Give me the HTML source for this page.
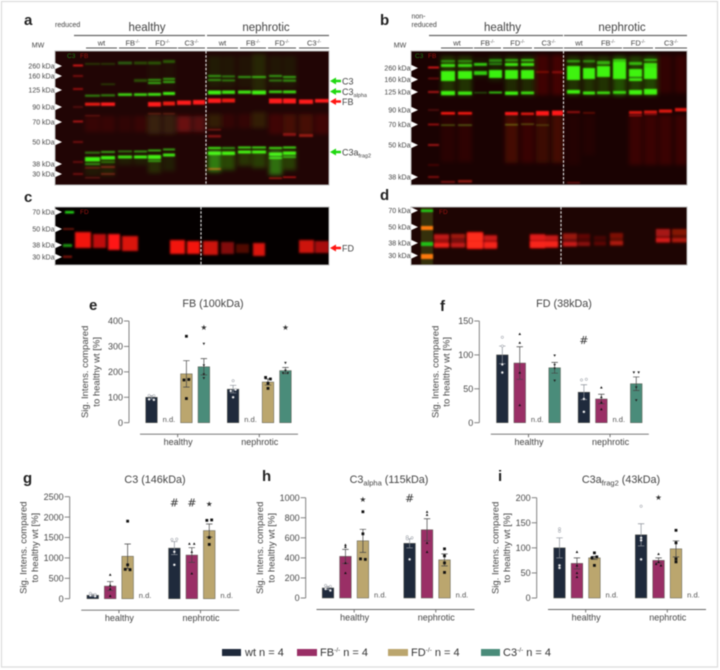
<!DOCTYPE html>
<html lang="en">
<head>
<meta charset="utf-8">
<title>Complement western blots and quantification</title>
<style>
html,body{margin:0;padding:0;background:#fff;width:720px;height:670px;overflow:hidden}
svg{display:block;font-family:"Liberation Sans",sans-serif;filter:blur(0.4px)}
text{fill:#444}
</style>
</head>
<body>
<svg id="fig" xmlns="http://www.w3.org/2000/svg" width="720" height="670" viewBox="0 0 720 670">
<defs>
<filter id="b1" x="-20%" y="-150%" width="140%" height="400%"><feGaussianBlur stdDeviation="0.8"/></filter>
<filter id="b2" x="-20%" y="-50%" width="140%" height="200%"><feGaussianBlur stdDeviation="1.1"/></filter>
<filter id="b3" x="-30%" y="-50%" width="160%" height="200%"><feGaussianBlur stdDeviation="2"/></filter>
<clipPath id="clipA"><rect x="55" y="51" width="274" height="134"/></clipPath>
<clipPath id="clipB"><rect x="411" y="51" width="276" height="134"/></clipPath>
<clipPath id="clipC"><rect x="55" y="207" width="274" height="58"/></clipPath>
<clipPath id="clipD"><rect x="411" y="207" width="276" height="58"/></clipPath>
</defs>
<rect x="1.5" y="1.5" width="716" height="665.5" fill="#fff" stroke="#dcdcdc" stroke-width="1.2"/>

<g font-weight="bold" font-size="15">
<text x="24" y="25" style="fill:#222">a</text>
<text x="380" y="25" style="fill:#222">b</text>
<text x="24" y="202" style="fill:#222">c</text>
<text x="380" y="200" style="fill:#222">d</text>
<text x="89" y="310" style="fill:#222">e</text>
<text x="440" y="311" style="fill:#222">f</text>
<text x="23" y="483" style="fill:#222">g</text>
<text x="262" y="481" style="fill:#222">h</text>
<text x="498" y="481" style="fill:#222">i</text>
</g>

<g id="headers"></g>
<g id="blots"></g>
<g id="charts"></g>

<g font-size="11">
<rect x="222" y="649" width="19" height="7" fill="#1f2a3c"/>
<text x="245" y="656" style="fill:#333">wt n = 4</text>
<rect x="297" y="649" width="20" height="7" fill="#9a2f66"/>
<text x="320" y="656" style="fill:#333">FB<tspan dy="-4" font-size="6.5">-/-</tspan><tspan dy="4"> n = 4</tspan></text>
<rect x="388" y="649" width="20" height="7" fill="#bba66e"/>
<text x="411" y="656" style="fill:#333">FD<tspan dy="-4" font-size="6.5">-/-</tspan><tspan dy="4"> n = 4</tspan></text>
<rect x="481" y="649" width="19" height="7" fill="#4a8c7a"/>
<text x="503" y="656" style="fill:#333">C3<tspan dy="-4" font-size="6.5">-/-</tspan><tspan dy="4"> n = 4</tspan></text>
</g>
</svg>

<script>
/* ---------- chart data ---------- */
const genotypeOrder = ['wt', 'FB', 'FD', 'C3'];
const groupNames = ['healthy', 'nephrotic'];

const ticksE = [0, 100, 200, 300, 400];
const meansE = [[100, null, 192, 220], [132, null, 160, 205]];
const errorsE = [[6, 0, 52, 32], [15, 0, 12, 12]];
const pointsE = [
  [[107, 106, 92, 90], [], [340, 170, 168, 95], [310, 225, 190, 175]],
  [[165, 130, 125, 100], [], [178, 172, 155, 135], [235, 195, 195, 205]]
];
const marksE = [[3, '*'], [7, '*']];

const ticksF = [0, 50, 100, 150];
const meansF = [[100, 88, null, 81], [45, 35, null, 57.5]];
const errorsF = [[13, 24, 0, 8], [11, 7, 0, 10]];
const pointsF = [
  [[126, 113, 86, 74], [131, 118, 74, 26], [], [99, 85, 80, 62]],
  [[63, 64, 35, 16], [52, 38, 30, 20], [], [74, 74, 52, 33]]
];
const marksF = [[4, '#']];

const ticksG = [0, 500, 1000, 1500, 2000, 2500];
const meansG = [[85, 310, 1040, null], [1240, 1070, 1670, null]];
const errorsG = [[25, 110, 300, 0], [160, 180, 160, 0]];
const pointsG = [
  [[130, 100, 80, 60], [590, 330, 240, 70], [1900, 830, 720, 710], []],
  [[1450, 1460, 1150, 830], [1350, 1350, 1150, 620], [1920, 1930, 1500, 1330], []]
];
const marksG = [[4, '#'], [5, '#'], [6, '*']];

const ticksH = [0, 200, 400, 600, 800, 1000];
const meansH = [[100, 415, 570, null], [545, 680, 380, null]];
const errorsH = [[15, 70, 115, 0], [45, 110, 60, 0]];
const pointsH = [
  [[125, 115, 90, 75], [530, 510, 350, 250], [860, 640, 390, 385], []],
  [[610, 600, 590, 385], [860, 830, 550, 460], [490, 420, 350, 255], []]
];
const marksH = [[2, '*'], [4, '#']];

const ticksI = [0, 50, 100, 150, 200];
const meansI = [[100, 69, 80, null], [126, 75, 98, null]];
const errorsI = [[20, 11, 3, 0], [22, 5, 16, 0]];
const pointsI = [
  [[138, 133, 65, 60], [92, 65, 50, 42], [90, 82, 80, 65], []],
  [[183, 120, 115, 77], [88, 72, 68, 65], [135, 110, 78, 72], []]
];
const marksI = [[5, '*']];

/* ---------- helpers ---------- */
const NS = 'http://www.w3.org/2000/svg';
function mk(tag, attrs, parent, txt) {
  const el = document.createElementNS(NS, tag);
  for (const k in attrs) el.setAttribute(k, attrs[k]);
  if (txt !== undefined) el.textContent = txt;
  parent.appendChild(el);
  return el;
}
const colorByGenotype = { wt: '#1f2a3c', FB: '#9a2f66', FD: '#bba66e', C3: '#4a8c7a' };

function drawPoint(g, type, x, y) {
  let el;
  if (type === 'wt') {
    el = mk('circle', { cx: x, cy: y, r: 1.2, fill: '#fff', stroke: '#8a8f98', 'stroke-width': 0.5 }, g);
  } else if (type === 'FB') {
    el = mk('polygon', { points: `${x - 1.3},${y + 1.1} ${x + 1.3},${y + 1.1} ${x},${y - 1.3}`, fill: '#111' }, g);
  } else if (type === 'FD') {
    el = mk('rect', { x: x - 1.4, y: y - 1.4, width: 2.8, height: 2.8, fill: '#111' }, g);
  } else {
    el = mk('polygon', { points: `${x - 1.3},${y - 1.1} ${x + 1.3},${y - 1.1} ${x},${y + 1.3}`, fill: '#222' }, g);
  }
  
  
}

function drawChart(cfg) {
  const root = document.getElementById('charts');
  const g = mk('g', {}, root);
  
  
  const yMax = cfg.ticks[cfg.ticks.length - 1];
  const yScale = v => cfg.y0 - (v / yMax) * (cfg.y0 - cfg.yTop);
  const slot = 17.45, groupStep = 81.6, barW = 11.6;
  const xScale = (grp, i) => cfg.x1 + grp * groupStep + i * slot;

  const axis = mk('line', { x1: cfg.axisX, x2: cfg.axisX, y1: cfg.yTop, y2: cfg.y0, stroke: '#777', 'stroke-width': 0.9 }, g);
  
  
  cfg.ticks.forEach(t => {
    const tk = mk('line', { x1: cfg.axisX - 5, x2: cfg.axisX, y1: yScale(t), y2: yScale(t), stroke: '#777', 'stroke-width': 0.9 }, g);
    
    
    const lb = mk('text', { x: cfg.axisX - 6, y: yScale(t) + 3.2, 'text-anchor': 'end', 'font-size': 9, style: 'fill:#4a4a4a' }, g, t);
    
    
  });

  const tcx = cfg.axisX - cfg.titleDx;
  const yt = mk('text', { transform: `translate(${tcx},${(cfg.y0 + cfg.yTop) / 2 + cfg.titleDy}) rotate(-90)`, 'text-anchor': 'middle', 'font-size': 9.5, style: 'fill:#444' }, g);
  
  
  const yt1 = mk('tspan', { x: 0, y: 0 }, yt, 'Sig. Intens. compared');
  
  
  const yt2 = mk('tspan', { x: 0, y: 11.3 }, yt, 'to healthy wt [%]');
  
  

  const ttl = mk('text', { x: cfg.titleX, y: cfg.titleY, 'text-anchor': 'middle', 'font-size': 10.8, style: 'fill:#444' }, g);
  
  
  ttl.appendChild(document.createTextNode(cfg.title[0]));
  if (cfg.title[1]) {
    const sb = mk('tspan', { dy: 2.5, 'font-size': 7.5 }, ttl, cfg.title[1]);
    
    
    const rs = mk('tspan', { dy: -2.5 }, ttl, cfg.title[2]);
    
    
  }

  const lineY = cfg.y0 + 11.5;
  const base = mk('line', { x1: cfg.x1 - 11.5, x2: cfg.x1 + 146.5, y1: lineY, y2: lineY, stroke: '#666', 'stroke-width': 0.9 }, g);
  
  

  groupNames.forEach((gn, gi) => {
    const cx = cfg.x1 + gi * groupStep + 1.5 * slot;
    const gt = mk('line', { x1: cx, x2: cx, y1: lineY, y2: lineY + 3, stroke: '#666', 'stroke-width': 0.9 }, g);
    
    
    const gl = mk('text', { x: cx + 0.5, y: lineY + 11, 'text-anchor': 'middle', 'font-size': 9, style: 'fill:#444' }, g, gn);
    
    

    genotypeOrder.forEach((type, i) => {
      const m = cfg.means[gi][i];
      const x = xScale(gi, i);
      if (m === null) {
        const nd = mk('text', { x: x, y: cfg.y0 - 0.5, 'text-anchor': 'middle', 'font-size': 7.6, style: 'fill:#555' }, g, 'n.d.');
        
        
        return;
      }
      const bar = mk('rect', { x: x - barW / 2, y: yScale(m), width: barW, height: cfg.y0 - yScale(m), fill: colorByGenotype[type], stroke: '#5a5a50', 'stroke-width': 0.5 }, g);
      
      
      const e = cfg.errors[gi][i];
      const errCol = type === 'wt' ? '#8a8f98' : '#444';
      const el = mk('path', { d: `M${x - 3.2} ${yScale(m + e)}H${x + 3.2}M${x} ${yScale(m + e)}V${yScale(m - e)}M${x - 3.2} ${yScale(m - e)}H${x + 3.2}`, fill: 'none', stroke: errCol, 'stroke-width': 0.7 }, g);
      
      
      cfg.points[gi][i].forEach((p, k) => {
        const neighbour = cfg.points[gi][i].some((q, j) => j !== k && Math.abs(q - p) < yMax * 0.02);
        const off = neighbour ? (k % 2 ? 2.4 : -2.4) : 0;
        drawPoint(g, type, x + off, yScale(p));
      });
    });
  });

  cfg.marks.forEach(mkr => {
    const grp = mkr[0] >= 4 ? 1 : 0;
    const idx = mkr[0] % 4;
    const sym = mkr[1] === '*' ? '★' : '#';
    const s = mk('text', { x: xScale(grp, idx), y: cfg.markY, 'text-anchor': 'middle', 'font-size': mkr[1] === '*' ? 7.5 : 11, style: 'fill:#333;font-family:"DejaVu Sans","Liberation Sans",sans-serif' }, g, sym);
    
    
  });
}

drawChart({ name: 'chart-fb', title: ['FB (100kDa)'], titleX: 213, titleY: 307, axisX: 129, y0: 422.7, yTop: 321, x1: 151.5, ticks: ticksE, means: meansE, errors: errorsE, points: pointsE, marks: marksE, markY: 330, titleDx: 41, titleDy: 0 });
drawChart({ name: 'chart-fd', title: ['FD (38kDa)'], titleX: 564, titleY: 307, axisX: 479.3, y0: 422.7, yTop: 321, x1: 502.3, ticks: ticksF, means: meansF, errors: errorsF, points: pointsF, marks: marksF, markY: 344, titleDx: 41, titleDy: 0 });
drawChart({ name: 'chart-c3', title: ['C3 (146kDa)'], titleX: 155, titleY: 483, axisX: 69.7, y0: 598.7, yTop: 496.7, x1: 92.75, ticks: ticksG, means: meansG, errors: errorsG, points: pointsG, marks: marksG, markY: 506.5, titleDx: 43, titleDy: 0 });
drawChart({ name: 'chart-c3-alpha', title: ['C3', 'alpha', ' (115kDa)'], titleX: 389, titleY: 483, axisX: 305.7, y0: 598, yTop: 497.7, x1: 328, ticks: ticksH, means: meansH, errors: errorsH, points: pointsH, marks: marksH, markY: 502, titleDx: 42.5, titleDy: 0 });
drawChart({ name: 'chart-c3a-frag2', title: ['C3a', 'frag2', ' (43kDa)'], titleX: 621, titleY: 483, axisX: 536.7, y0: 598, yTop: 497.7, x1: 559.5, ticks: ticksI, means: meansI, errors: errorsI, points: pointsI, marks: marksI, markY: 500, titleDx: 38, titleDy: 0 });

/* ---------- western blots ---------- */
const blotRoot = document.getElementById('blots');
const R = '#ff1612', G = '#22f010', DR = '#8a1410';
const lanesA = [[85,100],[101,115],[118,132],[134,147],[148,161],[163,175],[177,191],[193,205],[208,221],[222,235],[238,251],[252,266],[269,282],[283,296],[299,313],[315,329]];
const lanesB = [[441,455],[458,472],[474,487],[489,502],[505,518],[521,534],[536,549],[552,563],[567,580],[583,595],[597,610],[613,626],[629,642],[644,657],[659,672],[675,687]];

/* lane, y, height, colour, opacity */
const smearsA = [
  [8,56,32,G,.09],[9,56,32,G,.07],[10,56,32,G,.06],[11,54,38,G,.14],[12,56,32,G,.07],[13,56,32,G,.07],
  [4,60,30,G,.04],[5,60,30,G,.04],
  [0,116,16,DR,.18],[1,116,16,DR,.18],[2,116,16,DR,.12],[3,116,16,DR,.18],[4,114,20,'#556014',.3],[5,114,20,'#556014',.28],[6,116,16,DR,.6],[7,116,16,DR,.45],
  [8,114,14,'#405010',.3],[9,114,14,DR,.15],[10,114,14,DR,.15],[11,112,16,'#405010',.3],[12,114,20,DR,.25],[13,114,20,DR,.3],[14,114,20,DR,.3],[15,114,20,DR,.25],
  [8,150,22,G,.5],[9,150,20,G,.28],[10,150,16,G,.2],[11,150,18,G,.24],[12,150,25,G,.45],[13,150,20,G,.24],
  [0,158,18,G,.08],[1,158,18,G,.1],[2,155,10,G,.1],[3,155,10,G,.1],[4,155,18,G,.16],[5,155,16,G,.1]
];
const bandsA = [
  [0,63,1.8,G,.22],[1,63,1.8,G,.22],[2,61.5,3,G,.35],[3,61.5,3,G,.28],[4,61.5,3,G,.3],[5,60,3,G,.33],
  [1,83.5,1.5,G,.25],[3,79,3,G,.3],[4,79,1.8,G,.65],[4,82,2,G,.7],[5,78,1.8,G,.65],[5,81,2,G,.7],
  [0,94.7,2,G,.55],[1,94.3,2,G,.55],[2,93.3,2.6,G,.9],[3,93.3,2.6,G,.9],[4,93,2.8,G,.95],[5,92,3,G,1],
  [0,102.7,3,R,.9],[1,102.5,3.4,R,1],[4,102,4.6,R,1],[5,101.5,4,R,.9],[6,100.5,4.4,R,1],[7,100,4.6,R,1],
  [0,151.7,2,G,.5],[0,157,4.5,G,1],[0,163,2,G,.55],[1,151,2,G,.65],[1,156,3.5,G,1],[1,161,2,G,.4],
  [2,150.5,1.8,G,.5],[2,155.5,3,G,.9],[3,150.5,2,G,.6],[3,155.5,3,G,1],
  [4,149.5,2,G,.7],[4,155,4,G,1],[4,160,2,G,.55],[5,148.5,2,G,.65],[5,153.5,3,G,.95],
  [0,167,1.6,DR,.6],[1,166,2,DR,.7],[0,177,1.5,DR,.5],[1,173,2,DR,.6],[0,115,1.4,DR,.5],[4,113,1.4,DR,.5],[5,113,1.4,DR,.5],
  [8,75,2,G,.6],[8,79,2,G,.55],[9,75.5,1.8,G,.5],[9,79.5,1.8,G,.5],[10,76,2,G,.6],[11,76,2,G,.7],[12,75,2,G,.6],[12,79.5,2,G,.45],[13,76,2,G,.65],[13,79.5,2.2,G,.55],
  [8,90.5,4,G,1],[9,90.5,3.4,G,.95],[10,90.5,3.2,G,.95],[11,90.5,4,G,1],[12,90.5,2.6,G,.85],[13,90.5,2.8,G,.9],
  [8,98.4,4.6,R,1],[9,98.5,4,R,.9],[12,98.5,5,R,1],[13,98.5,5,R,1],[14,99.5,4.4,R,1],[15,99,3.6,R,1],
  [8,147,2,G,.95],[8,151.5,3.5,G,1],[9,147,2,G,.6],[9,151.5,3.5,G,1],[10,146.5,2,G,.9],[10,150.5,3,G,1],[11,146.5,2,G,.9],[11,150.5,3,G,1],
  [12,147,2,G,.9],[12,152.5,3.4,G,1],[12,157,2,G,.9],[13,146.5,2,G,.9],[13,151.5,3.4,G,1],[13,156,2,G,.65],
  [8,168,2,R,.55],[8,129,1.5,DR,.7],[8,135,2.5,DR,.8],[12,177.5,1.4,R,.6],[13,176.5,1.4,R,.7],[14,134,3,DR,.9],[13,133,3,DR,.8]
];
const ladderA = [65.5,76,89,107,121.5,142,162,174];
const ladderAop = [.9,.45,.6,.25,.7,.4,.35,.4];

const smearsB = [
  [0,56,40,G,.2],[1,56,40,G,.2],[2,58,20,G,.08],[3,56,25,G,.12],[4,56,40,G,.16],[5,56,40,G,.16],
  [6,55,40,R,.16],[7,55,40,R,.18],[14,55,38,R,.1],[15,55,38,R,.12],
  [8,56,40,G,.2],[9,56,40,G,.2],[10,56,40,G,.2],[11,56,40,G,.32],[12,56,40,G,.25],[13,56,40,G,.28],
  [0,112,50,DR,.12],[1,112,50,DR,.16],[4,115,48,DR,.34],[5,115,48,DR,.24],[6,115,48,DR,.28],[7,115,48,DR,.34],
  [8,115,50,DR,.08],[9,115,40,DR,.08],[12,115,50,DR,.26],[13,115,50,DR,.26],[14,115,50,DR,.26],[15,115,50,DR,.26]
];
const bandsB = [
  [0,60,2.5,G,.45],[0,64,3,G,.9],[1,60,2.5,G,.45],[1,64,3,G,.85],[2,63,2.8,G,.85],[3,59,3,G,.5],[3,63,2,G,.5],
  [4,59,2.5,G,.6],[4,63,3,G,.95],[5,59,2.5,G,.7],[5,63,3,G,.95],
  [0,71,8,G,1],[0,75,6,G,1],[1,71,8,G,1],[2,71,4,G,.85],[3,70,8,G,1],[4,70,9,G,1],[5,70,9,G,1],
  [0,91,4.2,G,1],[1,91.5,3.4,G,.95],[2,92,1.4,G,.35],[3,91.5,2,G,.8],[4,91.5,3.4,G,1],[5,91.5,2.8,G,.9],
  [0,112,2.6,R,.95],[1,112,2.6,R,.95],[4,112,3.2,R,1],[5,112.5,2.6,R,.85],[6,111,4.6,R,1],[7,110.5,5,R,1],
  [0,124.5,1.2,'#55a018',.6],[1,124.5,1.2,'#55a018',.7],[4,124,1.4,'#66a018',.6],[5,123.5,1.4,'#66a018',.5],[6,124.5,1.2,'#66a018',.4],
  [0,181,1.8,DR,.8],[1,180,2.6,DR,.9],[6,71,2,R,.3],[7,71,2.4,R,.35],
  [8,60,2.4,G,.55],[8,66,12,G,1],[8,76,4,G,1],[8,90,3.6,G,1],[9,60,2.5,G,.45],[9,68,11,G,1],[9,91.5,3,G,.95],
  [10,61,3.5,G,.65],[10,66,11,G,1],[10,91.5,2.6,G,.9],[11,59,3,G,.7],[11,62,15,G,1],[11,72,7,G,1],[11,91,2.8,G,.85],
  [12,62,3,G,.7],[12,69,8,G,1],[12,78,3,G,.95],[12,90,4.6,G,1],[13,59,2,G,.65],[13,63,5,G,.9],[13,68,11,G,1],[13,89,5.6,G,1],
  [8,111,2.2,R,.5],[9,112,1.8,R,.3],[12,111,3,R,.8],[12,115,1.4,R,.55],[13,110.5,3,R,.8],[13,114,1.2,R,.45],[14,109.5,3.2,R,.85],[15,108,3.4,R,.85],
  [8,182,1.4,DR,.7]
];
const ladderB = [67.5,78.5,92,110,124.5,145,165,177];
const ladderBop = [.9,.35,.7,.25,.6,.65,.2,.5];

/* panel c/d blocks: x0, x1, y0, y1, opacity */
const blocksC = [
  [75,91,232,248,.95],[93,106,234,248,.75],[108,120,234,250,1],[122,138,236,251,.85],
  [170,185,240,254,.95],[187,200,241,254,.95],[203,218,241,255,.8],[221,234,242,254,.5],[236,249,244,253,.3],[253,265,243,256,.85],
  [299,314,240,253,.8],[315,329,241,253,.65]
];
const blocksHazeD = [
  [434,449,234,248,.55],[451,465,234,248,.4],[467,483,232,249,.9],[484,497,235,249,.6],
  [530,545,234,248,.65],[545,558,235,248,.55],[563,577,233,247,.35],[578,590,234,246,.2],[594,606,236,246,.12],[610,623,233,246,.28],
  [656,670,229,243,.4],[672,687,229,243,.28]
];
const blocksD1 = [
  [434,449,235,239,.4],[451,465,234,238,.3],[467,483,233,241,.9],[484,497,236,240,.4],
  [530,545,235,240,.6],[545,558,236,240,.45],[563,577,234,239,.3],[578,590,234,238,.12],[594,606,236,239,.08],[610,623,233,238,.2],
  [656,670,229,236,.35],[672,687,229,235,.25]
];
const blocksD2 = [
  [434,449,243,247,.9],[451,465,243,247,.55],[467,483,241,248,.9],[484,497,242,248,.9],
  [530,545,241,248,.9],[545,558,241,247,.9],[563,577,242,246,.65],[578,590,242,246,.35],[594,606,242,245,.2],[610,623,241,245,.5],
  [656,670,238,242,.7],[672,687,238,242,.5]
];

function blotPanel(name, clipId, x, y, w, h, bg) {
  const g = mk('g', { 'clip-path': `url(#${clipId})` }, blotRoot);
  
  
  const r = mk('rect', { x: x, y: y, width: w, height: h, fill: bg }, g);
  
  
  const frame = mk('rect', { x: x, y: y, width: w, height: h, fill: 'none', stroke: '#bbb', 'stroke-width': 1 }, blotRoot);
  
  
  return g;
}
function drawLaneBands(panel, lanes, list, filterId, kind) {
  const g = mk('g', { filter: `url(#${filterId})`, style: 'mix-blend-mode:screen' }, panel);
  
  
  list.forEach(b => {
    const l = lanes[b[0]];
    const r = mk('rect', { x: l[0], y: b[1], width: l[1] - l[0], height: b[2], fill: b[3], opacity: b[4] }, g);
    
    
  });
}
function drawLadder(panel, x, w, ys, ops) {
  const g = mk('g', { filter: 'url(#b1)' }, panel);
  
  
  ys.forEach((yv, i) => {
    const r = mk('rect', { x: x, y: yv - 1, width: w, height: 2, fill: '#e01818', opacity: ops[i] }, g);
    
    
  });
}
function drawBlocks(panel, list, col, filterId) {
  const g = mk('g', { filter: `url(#${filterId})`, style: 'mix-blend-mode:screen' }, panel);
  
  
  list.forEach(b => {
    const r = mk('rect', { x: b[0], y: b[2], width: b[1] - b[0], height: b[3] - b[2], fill: col, opacity: b[4] }, g);
    
    
  });
}
function dashed(x, y1, y2) {
  const d = mk('line', { x1: x, x2: x, y1: y1, y2: y2, stroke: '#e8e8e8', 'stroke-width': 1.1, 'stroke-dasharray': '2.6 1.6' }, blotRoot);
  
  
}
function mwMarkers(list, x) {
  list.forEach(m => {
    const tri = mk('polygon', { points: `${x},${m[1] - 3.2} ${x + 7},${m[1]} ${x},${m[1] + 3.2}`, fill: '#fff' }, blotRoot);
    
    
    const t = mk('text', { x: x - 0.5, y: m[1] + 2.4, 'text-anchor': 'end', 'font-size': 7, style: 'fill:#444' }, blotRoot, m[0] + ' kDa');
    
    
  });
}
function blotTag(txt, x, y, col) {
  const t = mk('text', { x: x, y: y, 'font-size': 6.5, style: 'fill:' + col }, blotRoot, txt);
  
  
}

const pa = blotPanel('blot-a', 'clipA', 55, 51, 274, 134, '#210505');
drawLaneBands(pa, lanesA, smearsA, 'b3', 'blot-smear');
drawLadder(pa, 73, 10, ladderA, ladderAop);
drawLaneBands(pa, lanesA, bandsA, 'b1', 'blot-band');
const pb = blotPanel('blot-b', 'clipB', 411, 51, 276, 134, '#1a0202');
drawLaneBands(pb, lanesB, smearsB, 'b3', 'blot-smear');
drawLadder(pb, 428, 11, ladderB, ladderBop);
drawLaneBands(pb, lanesB, bandsB, 'b1', 'blot-band');

const pc = blotPanel('blot-c', 'clipC', 55, 207, 274, 58, '#040000');
drawBlocks(pc, blocksC, '#ff1612', 'b2');
const lc = [[65,74,211,213.5,'#22d018',1],[63,74,228,230,'#8a1a10',.7],[63,72,244,247,'#22b018',.8],[63,72,255.5,258,'#8a1410',.8]];
lc.forEach(b => {
  const r = mk('rect', { x: b[0], y: b[2], width: b[1] - b[0], height: b[3] - b[2], fill: b[4], opacity: b[5], filter: 'url(#b1)' }, pc);
  
  
});

const pd = blotPanel('blot-d', 'clipD', 411, 207, 276, 58, '#1e0503');
drawBlocks(pd, blocksHazeD, '#ff1612', 'b2');
drawBlocks(pd, blocksD1, '#ff1612', 'b2');
drawBlocks(pd, blocksD2, '#ff1612', 'b2');
const ld = [[421,433,207,265,'#3a3a10',.8],[421,433,209.5,212,'#22d018',1],[421,433,226,230,'#ff7a10',1],[421,433,242,246,'#22c018',1],[421,433,254,259,'#ff7a10',1]];
ld.forEach(b => {
  const r = mk('rect', { x: b[0], y: b[2], width: b[1] - b[0], height: b[3] - b[2], fill: b[4], opacity: b[5], filter: 'url(#b1)' }, pd);
  
  
});

dashed(206, 51, 185);
dashed(201, 207, 265);
dashed(563.5, 51, 185);
dashed(561, 207, 265);

mwMarkers([['260',66],['160',76],['125',90],['90',107],['70',122],['50',142],['38',164],['30',174]], 55);
mwMarkers([['70',212],['50',229],['38',245],['30',257]], 55);
mwMarkers([['260',68],['160',79.5],['125',92],['90',110],['70',124.5],['50',145],['38',177]], 411);
mwMarkers([['70',210.5],['50',227],['38',243],['30',255.5]], 411);
blotTag('C3', 67, 58, '#1c7a14');
blotTag('FB', 80, 58, '#9a1410');
blotTag('FD', 80, 214, '#9a1410');
blotTag('C3', 415, 58, '#1c7a14');
blotTag('FB', 428, 58, '#9a1410');
blotTag('FD', 439, 214, '#9a1410');

/* right-hand target arrows */
const arrowLabels = [
  [330, 81, '#1fd810', 'C3'], [330, 91.5, '#1fd810', 'C3', 'alpha'], [330, 101.5, '#ff1612', 'FB'],
  [330, 152, '#1fd810', 'C3a', 'frag2'], [330, 248, '#ff1612', 'FD']
];
arrowLabels.forEach(a => {
  const ar = mk('polygon', { points: `${a[0]},${a[1]} ${a[0] + 6},${a[1] - 3.5} ${a[0] + 6},${a[1] - 1.2} ${a[0] + 11},${a[1] - 1.2} ${a[0] + 11},${a[1] + 1.2} ${a[0] + 6},${a[1] + 1.2} ${a[0] + 6},${a[1] + 3.5}`, fill: a[2] }, blotRoot);
  
  
  const t = mk('text', { x: a[0] + 12, y: a[1] + 3.3, 'font-size': 9, style: 'fill:#444' }, blotRoot, a[3]);
  
  
  if (a[4]) {
    const s = mk('tspan', { dy: 2, 'font-size': 5.5 }, t, a[4]);
    
    
  }
});

/* headers */
const hdr = document.getElementById('headers');
function headerLine(x1, x2, y, col, w) {
  const l = mk('line', { x1: x1, x2: x2, y1: y, y2: y, stroke: col, 'stroke-width': w }, hdr);
  
  
}
function headerText(txt, cx, y, size, anchor) {
  const t = mk('text', { x: cx, y: y, 'text-anchor': anchor || 'middle', 'font-size': size, style: 'fill:#444' }, hdr);
  
  
  const parts = txt.split('^');
  t.appendChild(document.createTextNode(parts[0]));
  if (parts[1]) {
    const s = mk('tspan', { dy: -2.5, 'font-size': 4.8 }, t, parts[1]);
    
    
  }
}
const subA = [[86,117,'wt'],[119,146,'FB^-/-'],[148,177,'FD^-/-'],[178,205,'C3^-/-'],[207,238,'wt'],[240,266,'FB^-/-'],[268,296,'FD^-/-'],[299,329,'C3^-/-']];
const subB = [[441,473,'wt'],[474,501,'FB^-/-'],[503,532,'FD^-/-'],[534,563,'C3^-/-'],[564,594,'wt'],[594,622,'FB^-/-'],[623,653,'FD^-/-'],[655,687,'C3^-/-']];
subA.concat(subB).forEach(s => {
  headerLine(s[0], s[1], 48, '#555', 1);
  headerText(s[2], (s[0] + s[1]) / 2, 47 - 1.5, 7.5);
});
headerLine(74, 205, 35.5, '#666', 1.2);
headerLine(207, 329, 35.5, '#666', 1.2);
headerLine(429, 563, 35.5, '#666', 1.2);
headerLine(564, 687, 35.5, '#666', 1.2);
headerText('healthy', 147, 31, 11.5);
headerText('nephrotic', 266, 31, 11.5);
headerText('healthy', 502.5, 31, 11.5);
headerText('nephrotic', 622, 31, 11.5);
headerText('reduced', 55, 27, 7, 'start');
headerText('non-', 411.5, 18.5, 7, 'start');
headerText('reduced', 411.5, 27, 7, 'start');
headerText('MW', 38, 47.5, 7);
headerText('MW', 400, 47.5, 7);
</script>
</body>
</html>
